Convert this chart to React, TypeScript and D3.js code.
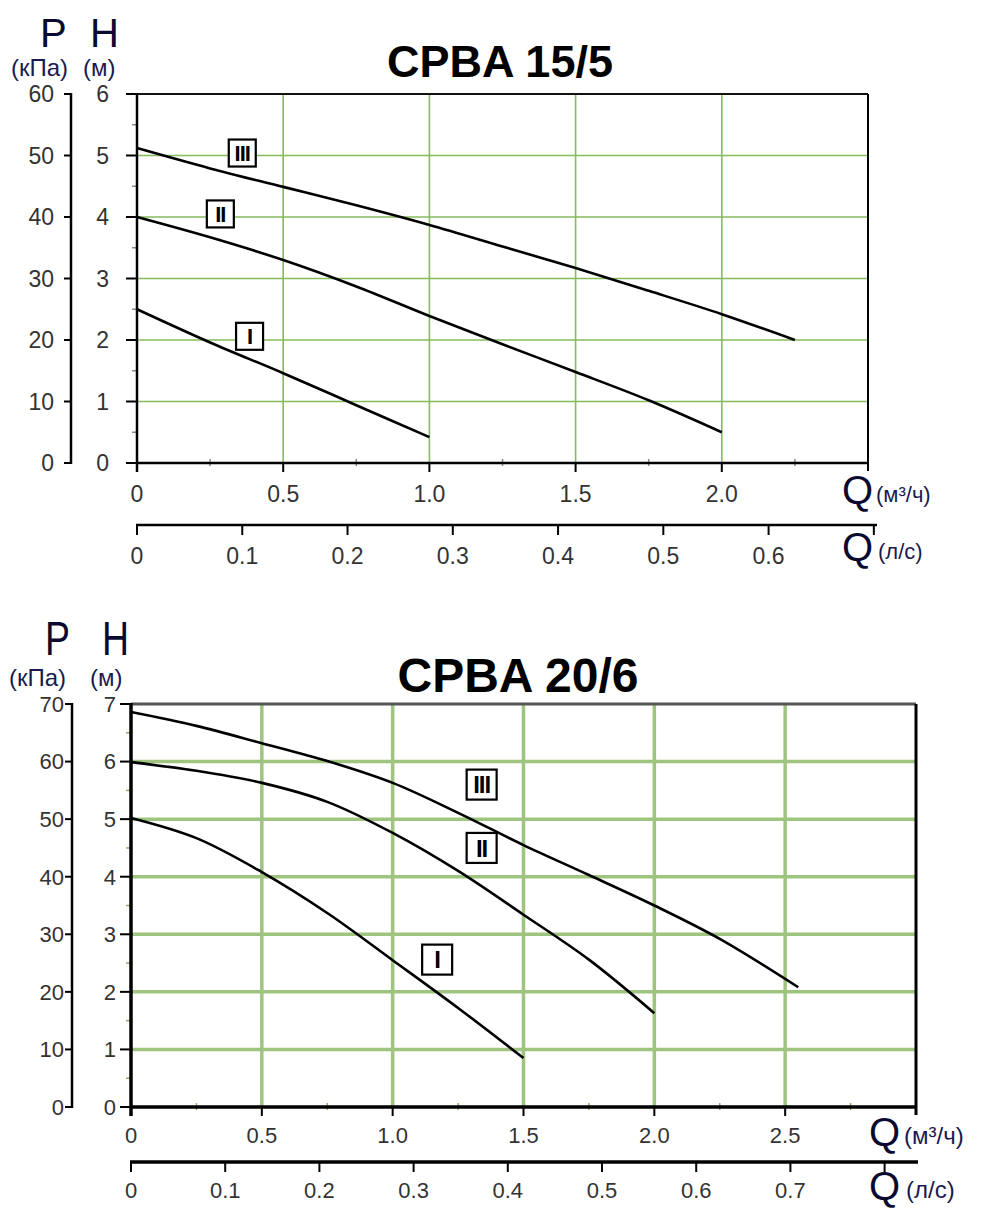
import React from 'react';
import * as d3 from 'd3';

// ---------- data: CPBA 15/5 ----------
const a_Q_I = [0, 0.25, 0.5, 0.75, 1.0];
const a_H_I = [2.5, 1.96, 1.46, 0.94, 0.42];
const a_Q_II = [0, 0.25, 0.5, 0.75, 1.0, 1.25, 1.5, 1.75, 2.0];
const a_H_II = [4.0, 3.67, 3.3, 2.87, 2.39, 1.93, 1.48, 1.02, 0.5];
const a_Q_III = [0, 0.25, 0.5, 0.75, 1.0, 1.25, 1.5, 1.75, 2.0, 2.25];
const a_H_III = [5.12, 4.79, 4.49, 4.19, 3.87, 3.52, 3.17, 2.8, 2.42, 2.0];

// ---------- data: CPBA 20/6 ----------
const b_Q_I = [0, 0.25, 0.5, 0.75, 1.0, 1.25, 1.5];
const b_H_I = [5.02, 4.67, 4.08, 3.37, 2.55, 1.72, 0.85];
const b_Q_II = [0, 0.25, 0.5, 0.75, 1.0, 1.25, 1.5, 1.75, 2.0];
const b_H_II = [5.99, 5.84, 5.63, 5.3, 4.76, 4.1, 3.34, 2.56, 1.63];
const b_Q_III = [0, 0.25, 0.5, 0.75, 1.0, 1.25, 1.5, 1.75, 2.0, 2.25, 2.55];
const b_H_III = [6.86, 6.62, 6.32, 6.01, 5.63, 5.11, 4.55, 4.03, 3.5, 2.92, 2.08];

const seriesNames = ['I', 'II', 'III'];

// tick labels
const a_qTicks = ['0', '0.5', '1.0', '1.5', '2.0'];
const b_qTicks = ['0', '0.5', '1.0', '1.5', '2.0', '2.5'];
const a_lsTicks = ['0', '0.1', '0.2', '0.3', '0.4', '0.5', '0.6', ''];
const b_lsTicks = ['0', '0.1', '0.2', '0.3', '0.4', '0.5', '0.6', '0.7', ''];
const a_hTicks = ['0', '1', '2', '3', '4', '5', '6'];
const b_hTicks = ['0', '1', '2', '3', '4', '5', '6', '7'];
const a_pTicks = ['0', '10', '20', '30', '40', '50', '60'];
const b_pTicks = ['0', '10', '20', '30', '40', '50', '60', '70'];

// label anchor positions (Q, H) for the roman numeral boxes
const a_labelQ = [0.385, 0.285, 0.36];
const a_labelH = [2.06, 4.05, 5.04];
const b_labelQ = [1.17, 1.34, 1.34];
const b_labelH = [2.56, 4.5, 5.6];

const FONT = '"Liberation Sans", Arial, sans-serif';

type Cfg = {
  title: string;
  titleX: number;
  titleY: number;
  titleSize: number;
  left: number;
  right: number;
  top: number;
  bottom: number;
  qMax: number;
  hMax: number;
  qTicks: string[];
  lsTicks: string[];
  hTicks: string[];
  pTicks: string[];
  lsY: number;
  lsEnd: number;
  pX: number;
  hLabelX: number;
  pLabelX: number;
  tickSize: number;
  grid: string;
  gridW: number;
  minor: string;
  axisW: number;
  topColor: string;
  series: { q: number[]; h: number[] }[];
  labelQ: number[];
  labelH: number[];
  box: number;
  boxFont: number;
  hdr: { pX: number; hX: number; y: number; size: number; sx: number; subY: number; subSize: number; kpaX: number; mX: number };
  qLab: { x: number; y1: number; y2: number; size: number; subSize: number; subDx: number };
  xLabY: number;
  lsLabY: number;
};

function PumpChart({ cfg }: { cfg: Cfg }) {
  const x = d3.scaleLinear().domain([0, cfg.qMax]).range([cfg.left, cfg.right]);
  const y = d3.scaleLinear().domain([0, cfg.hMax]).range([cfg.bottom, cfg.top]);
  const p = d3.scaleLinear().domain([0, cfg.hMax * 10]).range([cfg.bottom, cfg.top]);
  const ls = d3.scaleLinear().domain([0, cfg.qMax / 3.6]).range([cfg.left, cfg.right]);
  const line = d3
    .line<[number, number]>()
    .x((d) => x(d[0]))
    .y((d) => y(d[1]))
    .curve(d3.curveCatmullRom.alpha(0.5));

  const qGrid = d3.range(1, cfg.qTicks.length).map((i) => i * 0.5);
  const hGrid = d3.range(1, cfg.hMax);
  const qMinor = d3.range(0, cfg.qMax / 0.5).map((i) => i * 0.5 + 0.25);
  const hMinor = d3.range(0, cfg.hMax).map((i) => i + 0.5);

  return (
    <g fontFamily={FONT}>
      {/* title */}
      <text x={cfg.titleX} y={cfg.titleY} textAnchor="middle" fontWeight="bold" fontSize={cfg.titleSize} fill="#000">
        {cfg.title}
      </text>
      {/* P / H headers */}
      <g transform={`translate(${cfg.hdr.pX},${cfg.hdr.y}) scale(${cfg.hdr.sx},1)`}>
        <text fontSize={cfg.hdr.size} fill="#0a0a30">P</text>
      </g>
      <g transform={`translate(${cfg.hdr.hX},${cfg.hdr.y}) scale(${cfg.hdr.sx},1)`}>
        <text fontSize={cfg.hdr.size} fill="#0a0a30">H</text>
      </g>
      <text x={cfg.hdr.kpaX} y={cfg.hdr.subY} fontSize={cfg.hdr.subSize} fill="#1a1a50">(кПа)</text>
      <text x={cfg.hdr.mX} y={cfg.hdr.subY} fontSize={cfg.hdr.subSize} fill="#1a1a50">(м)</text>

      {/* grid */}
      {hGrid.map((h) => (
        <line key={'hg' + h} x1={cfg.left} x2={cfg.right} y1={y(h)} y2={y(h)} stroke={cfg.grid} strokeWidth={cfg.gridW} />
      ))}
      {qGrid.map((q) => (
        <line key={'qg' + q} x1={x(q)} x2={x(q)} y1={cfg.top} y2={cfg.bottom} stroke={cfg.grid} strokeWidth={cfg.gridW} />
      ))}

      {/* minor ticks */}
      {qMinor.map((q) => (
        <line key={'qm' + q} x1={x(q)} x2={x(q)} y1={cfg.bottom - 4} y2={cfg.bottom + 3} stroke={cfg.minor} strokeWidth={1.5} />
      ))}
      {hMinor.map((h) => (
        <line key={'hm' + h} x1={cfg.left - 5} x2={cfg.left + 1} y1={y(h)} y2={y(h)} stroke={cfg.minor} strokeWidth={1.5} />
      ))}

      {/* frame */}
      <line x1={cfg.left} x2={cfg.right} y1={cfg.top} y2={cfg.top} stroke={cfg.topColor} strokeWidth={cfg.axisW - 0.5} />
      <line x1={cfg.right} x2={cfg.right} y1={cfg.top} y2={cfg.bottom + 8} stroke="#000" strokeWidth={cfg.axisW - 0.5} />
      <line x1={cfg.left - 1} x2={cfg.right} y1={cfg.bottom} y2={cfg.bottom} stroke="#000" strokeWidth={cfg.axisW} />
      <line x1={cfg.left} x2={cfg.left} y1={cfg.top - 1} y2={cfg.bottom + 9} stroke="#000" strokeWidth={cfg.axisW} />

      {/* H axis ticks & labels */}
      {cfg.hTicks.map((t, i) => (
        <g key={'ht' + i}>
          <line x1={cfg.left - 11} x2={cfg.left} y1={y(i)} y2={y(i)} stroke="#000" strokeWidth={2} />
          <text x={cfg.hLabelX} y={y(i)} dy="0.36em" textAnchor="end" fontSize={cfg.tickSize} fill="#333">
            {t}
          </text>
        </g>
      ))}

      {/* P axis */}
      <line x1={cfg.pX} x2={cfg.pX} y1={cfg.top - 1} y2={cfg.bottom + 1} stroke="#000" strokeWidth={2.5} />
      {cfg.pTicks.map((t, i) => (
        <g key={'pt' + i}>
          <line x1={cfg.pX - 7} x2={cfg.pX} y1={p(i * 10)} y2={p(i * 10)} stroke="#000" strokeWidth={2} />
          <text x={cfg.pLabelX} y={p(i * 10)} dy="0.36em" textAnchor="end" fontSize={cfg.tickSize} fill="#333">
            {t}
          </text>
        </g>
      ))}

      {/* Q m3/h ticks & labels */}
      {cfg.qTicks.map((t, i) => (
        <g key={'qt' + i}>
          <line x1={x(i * 0.5)} x2={x(i * 0.5)} y1={cfg.bottom} y2={cfg.bottom + 9} stroke="#000" strokeWidth={2} />
          <text x={x(i * 0.5)} y={cfg.xLabY} textAnchor="middle" fontSize={cfg.tickSize} fill="#333">
            {t}
          </text>
        </g>
      ))}
      <text x={cfg.qLab.x} y={cfg.qLab.y1} fontSize={cfg.qLab.size} fill="#0a0a30">Q</text>
      <text x={cfg.qLab.x + cfg.qLab.subDx} y={cfg.qLab.y1 - 2} fontSize={cfg.qLab.subSize} fill="#1a1a50">(м³/ч)</text>

      {/* Q l/s axis */}
      <line x1={cfg.left - 1} x2={cfg.lsEnd} y1={cfg.lsY} y2={cfg.lsY} stroke="#000" strokeWidth={cfg.axisW} />
      {cfg.lsTicks.map((t, i) => (
        <g key={'lt' + i}>
          <line x1={ls(i / 10)} x2={ls(i / 10)} y1={cfg.lsY} y2={cfg.lsY + 10} stroke="#000" strokeWidth={2} />
          <text x={ls(i / 10)} y={cfg.lsLabY} textAnchor="middle" fontSize={cfg.tickSize} fill="#333">
            {t}
          </text>
        </g>
      ))}
      <text x={cfg.qLab.x} y={cfg.qLab.y2} fontSize={cfg.qLab.size} fill="#0a0a30">Q</text>
      <text x={cfg.qLab.x + cfg.qLab.subDx + 2} y={cfg.qLab.y2 - 2} fontSize={cfg.qLab.subSize} fill="#1a1a50">(л/с)</text>

      {/* curves */}
      {cfg.series.map((s, i) => (
        <path
          key={'s' + i}
          d={line(s.q.map((q, j) => [q, s.h[j]] as [number, number])) || ''}
          fill="none"
          stroke="#000"
          strokeWidth={2.6}
        />
      ))}

      {/* numeral boxes */}
      {seriesNames.map((n, i) => {
        const cx = x(cfg.labelQ[i]);
        const cy = y(cfg.labelH[i]);
        const b = cfg.box;
        return (
          <g key={'lb' + i}>
            <rect x={cx - b / 2} y={cy - b / 2} width={b} height={b} fill="#fff" stroke="#000" strokeWidth={2.2} />
            <text
              x={cx}
              y={cy}
              dy="0.36em"
              textAnchor="middle"
              fontSize={cfg.boxFont}
              fontWeight="bold"
              letterSpacing={-1}
              fill="#000"
            >
              {n}
            </text>
          </g>
        );
      })}
    </g>
  );
}

const cfgA: Cfg = {
  title: 'CPBA 15/5',
  titleX: 500,
  titleY: 77,
  titleSize: 45,
  left: 137,
  right: 868,
  top: 94,
  bottom: 463,
  qMax: 2.5,
  hMax: 6,
  qTicks: a_qTicks,
  lsTicks: a_lsTicks,
  hTicks: a_hTicks,
  pTicks: a_pTicks,
  lsY: 525,
  lsEnd: 877,
  pX: 71,
  hLabelX: 109,
  pLabelX: 54,
  tickSize: 23,
  grid: '#86bb5e',
  gridW: 1.6,
  minor: '#888',
  axisW: 2.5,
  topColor: '#111',
  series: [
    { q: a_Q_I, h: a_H_I },
    { q: a_Q_II, h: a_H_II },
    { q: a_Q_III, h: a_H_III },
  ],
  labelQ: a_labelQ,
  labelH: a_labelH,
  box: 27,
  boxFont: 22,
  hdr: { pX: 40, hX: 90, y: 47, size: 40, sx: 1, subY: 76, subSize: 24, kpaX: 11, mX: 83 },
  qLab: { x: 842, y1: 504, y2: 561, size: 40, subSize: 22, subDx: 34 },
  xLabY: 502,
  lsLabY: 564,
};

const cfgB: Cfg = {
  title: 'CPBA 20/6',
  titleX: 518,
  titleY: 692,
  titleSize: 48,
  left: 131,
  right: 916,
  top: 704,
  bottom: 1107,
  qMax: 3,
  hMax: 7,
  qTicks: b_qTicks,
  lsTicks: b_lsTicks,
  hTicks: b_hTicks,
  pTicks: b_pTicks,
  lsY: 1162,
  lsEnd: 918,
  pX: 72,
  hLabelX: 116,
  pLabelX: 64,
  tickSize: 22,
  grid: '#9fc47f',
  gridW: 3.5,
  minor: '#8aab6a',
  axisW: 3.5,
  topColor: '#555',
  series: [
    { q: b_Q_I, h: b_H_I },
    { q: b_Q_II, h: b_H_II },
    { q: b_Q_III, h: b_H_III },
  ],
  labelQ: b_labelQ,
  labelH: b_labelH,
  box: 30,
  boxFont: 24,
  hdr: { pX: 45, hX: 102, y: 655, size: 48, sx: 0.78, subY: 686, subSize: 24, kpaX: 9, mX: 90 },
  qLab: { x: 869, y1: 1146, y2: 1200, size: 40, subSize: 24, subDx: 35 },
  xLabY: 1143,
  lsLabY: 1198,
};

export default function App() {
  return (
    <svg
      width={988}
      height={1209}
      viewBox="0 0 988 1209"
      style={{ position: 'absolute', left: 0, top: 0, background: '#fff' }}
    >
      <rect x={0} y={0} width={988} height={1209} fill="#fff" />
      <PumpChart cfg={cfgA} />
      <PumpChart cfg={cfgB} />
    </svg>
  );
}
